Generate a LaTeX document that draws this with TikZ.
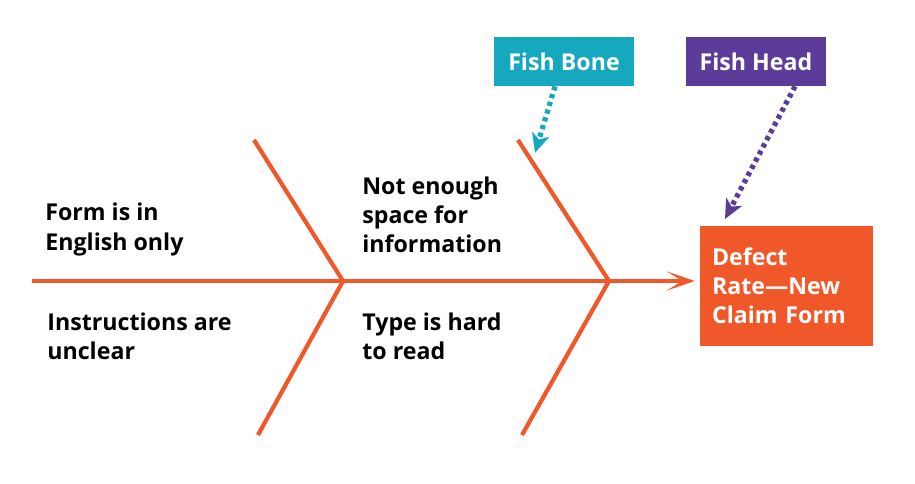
\documentclass[tikz,border=0pt]{standalone}
\usepackage{fontspec}
\setmainfont{Open Sans}
\usetikzlibrary{arrows.meta,positioning}
\definecolor{fc}{RGB}{241,88,41}
\definecolor{bc}{RGB}{22,168,190}
\definecolor{hc}{RGB}{92,60,152}
\tikzset{txt/.style={anchor=west,align=left,inner sep=0pt,font=\fontsize{13.2}{16.6}\selectfont\bfseries},
 tag/.style={fill=#1,text=white,minimum width=2.8cm,minimum height=.98cm,inner sep=0pt,font=\fontsize{13.2}{16.6}\selectfont\bfseries},
 hd/.style={fill=fc,text=white,minimum width=3.46cm,minimum height=2.4cm,text width=2.98cm,align=left,inner sep=0pt,font=\fontsize{13.2}{16.6}\selectfont\bfseries},
 bone/.style={draw=fc,line width=2.4pt},
 spine/.style={bone,-{Stealth[length=16pt,width=11pt,inset=9pt,line width=0pt]}},
 ptr/.style={draw=#1,line width=3pt,dash pattern=on 2.4pt off 2.2pt,-{Stealth[length=11pt,width=10pt,inset=3pt,fill=#1]}}}
\begin{document}
\begin{tikzpicture}[x=.02cm,y=-.02cm]
\useasboundingbox (0,0) rectangle (915,483);
% head and spine
\node[hd] (head) at (786.5,286) {Defect\\Rate---New\\Claim Form};
\coordinate (tail) at (32,281);
\coordinate (j1) at (343,281);\coordinate (j2) at (609,281);
\draw[spine,shorten >=5*.02cm] (tail) -- (head.west|-tail);
% bones
\coordinate (t1) at (254,140);\coordinate (b1) at (258,435);
\coordinate (t2) at (518,140);\coordinate (b2) at (522,435);
\draw[bone] (t1) -- (j1) -- (b1);
\draw[bone] (t2) -- (j2) -- (b2);
% causes
\node[txt] (c1) at (45,229.5) {Form is in\\English only};
\node[txt] (c2) at (47,336.5) {Instructions are\\unclear};
\node[txt] (c3) at (362,215) {Not enough\\space for\\information};
\node[txt] (c4) at (362,336.5) {Type is hard\\to read};
% tags
\node[tag=bc] (fb) at (564,61.5) {Fish Bone};
\node[tag=hc] (fh) at (756,61.5) {Fish Head};
\coordinate (pb) at (535,153);\coordinate (ph) at (725,219);
\draw[ptr=bc] ([xshift=-9*.02cm]fb.south) -- (pb);
\draw[ptr=hc] ([xshift=39*.02cm]fh.south) -- (ph);
\end{tikzpicture}
\end{document}
